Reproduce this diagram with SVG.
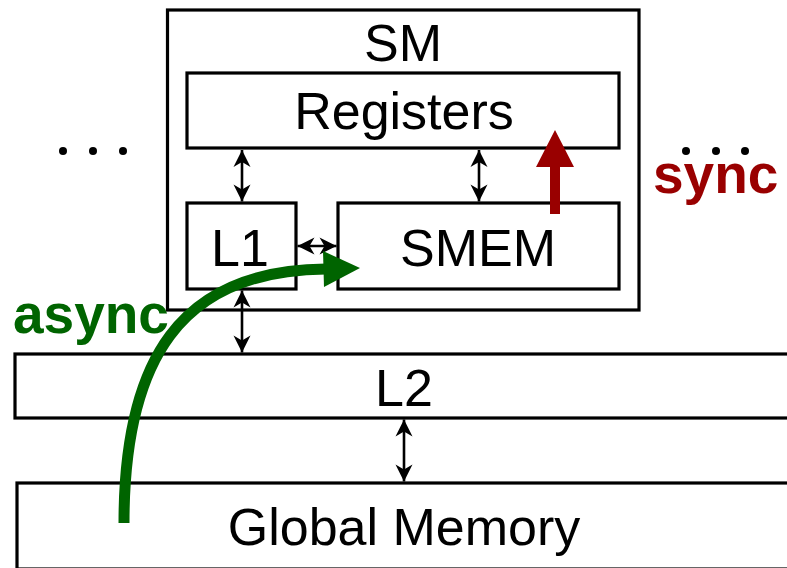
<svg xmlns="http://www.w3.org/2000/svg" width="787" height="568" viewBox="0 0 787 568">
  <style>
    .box { fill: #ffffff; stroke: #000000; stroke-width: 3.2; }
    .lbl { font-family: "Liberation Sans", Arial, Helvetica, sans-serif; font-size: 52px; fill: #000000; text-anchor: middle; }
    .link { stroke: #000000; stroke-width: 2.6; fill: none; marker-start: url(#head); marker-end: url(#head); }
    .dot { fill: #000000; }
    .tag { font-family: "Liberation Sans", Arial, Helvetica, sans-serif; font-size: 55px; font-weight: bold; }
  </style>
  <defs>
    <marker id="head" markerUnits="userSpaceOnUse" markerWidth="20" markerHeight="20" viewBox="-19 -10 20 20" refX="0" refY="0" orient="auto-start-reverse">
      <path d="M0,0 L-17,-8.5 L-12,0 L-17,8.5 Z" fill="#000000"/>
    </marker>
  </defs>

  <rect width="787" height="568" fill="#ffffff"/>

  <!-- memory hierarchy levels -->
  <g id="global-memory">
    <rect class="box" x="17" y="483" width="800" height="86"/>
    <text class="lbl" x="404" y="545">Global Memory</text>
  </g>
  <g id="l2">
    <rect class="box" x="15" y="354" width="800" height="64"/>
    <text class="lbl" x="404" y="406">L2</text>
  </g>
  <g id="sm">
    <rect class="box" x="167.5" y="10" width="471.5" height="300"/>
    <text class="lbl" x="403" y="61">SM</text>
  </g>
  <g id="registers">
    <rect class="box" x="187" y="73" width="432" height="75"/>
    <text class="lbl" x="404" y="129">Registers</text>
  </g>
  <g id="l1">
    <rect class="box" x="187" y="203" width="109" height="86"/>
    <text class="lbl" x="240" y="266">L1</text>
  </g>
  <g id="smem">
    <rect class="box" x="338" y="203" width="281" height="86"/>
    <text class="lbl" x="478" y="266">SMEM</text>
  </g>

  <!-- other SMs elided -->
  <g id="dots-left">
    <circle class="dot" cx="63" cy="151" r="4"/>
    <circle class="dot" cx="93" cy="151" r="4"/>
    <circle class="dot" cx="123" cy="151" r="4"/>
  </g>
  <g id="dots-right">
    <circle class="dot" cx="686" cy="151" r="4"/>
    <circle class="dot" cx="716" cy="151" r="4"/>
    <circle class="dot" cx="745" cy="151" r="4"/>
  </g>

  <!-- data paths between levels -->
  <g id="connectors">
    <line class="link" x1="242" y1="150" x2="242" y2="201.5"/>
    <line class="link" x1="479" y1="150" x2="479" y2="201.5"/>
    <line class="link" x1="297.5" y1="246" x2="336.5" y2="246"/>
    <line class="link" x1="242" y1="290.5" x2="242" y2="352.5"/>
    <line class="link" x1="404" y1="419.5" x2="404" y2="481.5"/>
  </g>

  <!-- synchronous copy: SMEM to registers -->
  <g id="sync">
    <path d="M550,214 L550,167 L536,167 L555,130 L574,167 L560,167 L560,214 Z" fill="#990000"/>
    <text class="tag" x="653" y="193" fill="#990000">sync</text>
  </g>

  <!-- asynchronous copy: global memory straight to SMEM -->
  <g id="async">
    <path d="M124,523 C124,360 180,270 326,269" fill="none" stroke="#006400" stroke-width="11"/>
    <path d="M323,251 L360,268 L324,287 Z" fill="#006400"/>
    <text class="tag" x="13" y="333" fill="#006400">async</text>
  </g>
</svg>
